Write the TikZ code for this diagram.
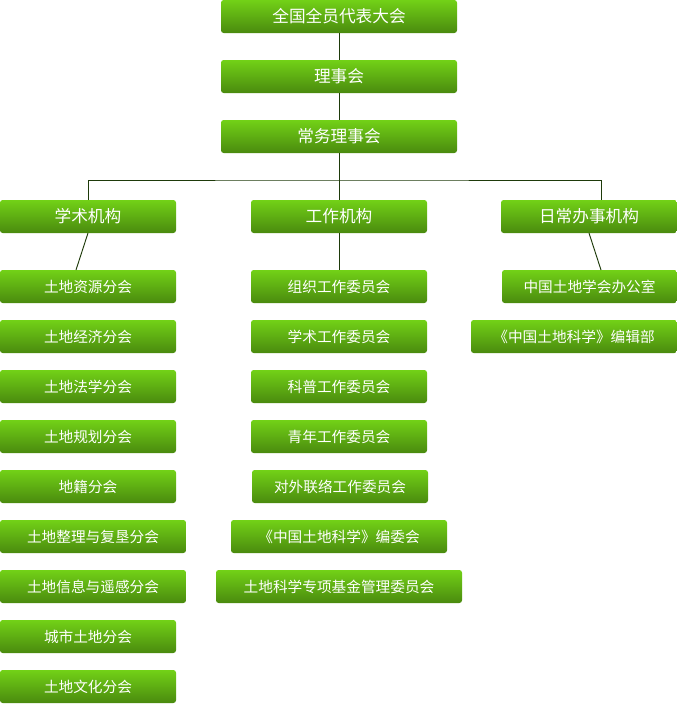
\documentclass[tikz,border=0pt]{standalone}
\usepackage{fontspec}
\setmainfont{Noto Sans CJK SC}
\definecolor{gtop}{HTML}{72D117}
\definecolor{gbot}{HTML}{4A8A0E}
\definecolor{lnc}{HTML}{1E3A0A}
\begin{document}
\begin{tikzpicture}[x=0.75pt,y=-0.75pt,
  bx/.style={rounded corners=2pt,top color=gtop,bottom color=gbot,draw=none,text=white,inner sep=0pt},
  ln/.style={draw=lnc,line width=0.7pt}]
\useasboundingbox (0,0) rectangle (677,704);
\newcommand{\bx}[6]{\path[bx] (#2,#3) rectangle (#4,#3+33); \node[text=white,font=#6] (#1) at ({(#2+#4)/2},#3+16.5) {#5};
 \coordinate (#1t) at ({(#2+#4)/2},#3); \coordinate (#1b) at ({(#2+#4)/2},#3+33);}
\def\fa{\fontsize{12.5}{14}\selectfont}
\def\fb{\fontsize{11}{13}\selectfont}
\bx{a}{221}{0}{457}{全国全员代表大会}{\fa}
\bx{b}{221}{60}{457}{理事会}{\fa}
\bx{c}{221}{120}{457}{常务理事会}{\fa}
\bx{l}{0}{200}{176}{学术机构}{\fa}
\bx{m}{251}{200}{427}{工作机构}{\fa}
\bx{r}{501}{200}{677}{日常办事机构}{\fa}
\bx{l1}{0}{270}{176}{土地资源分会}{\fb}
\bx{l2}{0}{320}{176}{土地经济分会}{\fb}
\bx{l3}{0}{370}{176}{土地法学分会}{\fb}
\bx{l4}{0}{420}{176}{土地规划分会}{\fb}
\bx{l5}{0}{470}{176}{地籍分会}{\fb}
\bx{l6}{0}{520}{186}{土地整理与复垦分会}{\fb}
\bx{l7}{0}{570}{186}{土地信息与遥感分会}{\fb}
\bx{l8}{0}{620}{176}{城市土地分会}{\fb}
\bx{l9}{0}{670}{176}{土地文化分会}{\fb}
\bx{m1}{251}{270}{427}{组织工作委员会}{\fb}
\bx{m2}{251}{320}{427}{学术工作委员会}{\fb}
\bx{m3}{251}{370}{427}{科普工作委员会}{\fb}
\bx{m4}{251}{420}{427}{青年工作委员会}{\fb}
\bx{m5}{252}{470}{428}{对外联络工作委员会}{\fb}
\bx{m6}{231}{520}{447}{《中国土地科学》编委会}{\fb}
\bx{m7}{216}{570}{462}{土地科学专项基金管理委员会}{\fb}
\bx{r1}{502}{270}{677}{中国土地学会办公室}{\fb}
\bx{r2}{471}{320}{677}{《中国土地科学》编辑部}{\fb}
\coordinate (h) at (339,180);
\draw[ln] (ab) -- (bt);
\draw[ln] (bb) -- (ct);
\draw[ln] (cb) -- (mt);
\draw[ln] (lt) |- (h) -| (601,200);
\draw[ln] (lb) -- (76,270);
\draw[ln] (mb) -- (m1t);
\draw[ln] (rb) -- (601,270);
\end{tikzpicture}
\end{document}
